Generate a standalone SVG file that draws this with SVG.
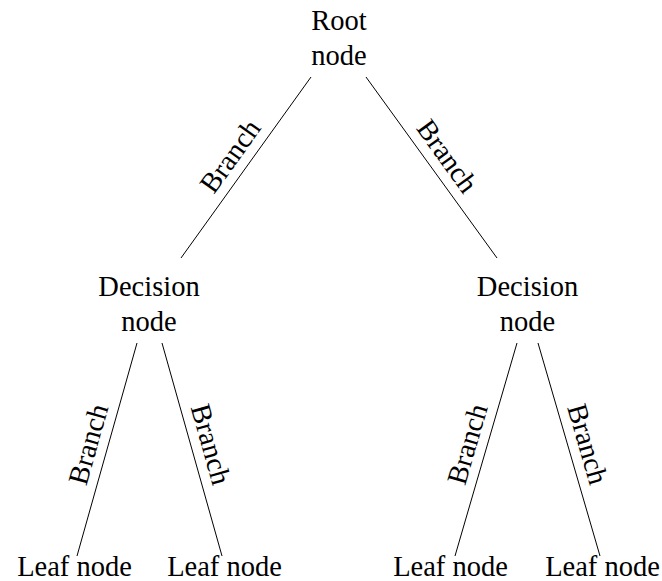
<svg xmlns="http://www.w3.org/2000/svg" width="662" height="581" viewBox="0 0 662 581">
  <style>
    text { font-family: "Liberation Serif", "Times New Roman", serif; font-size: 28.5px; fill: #000; text-anchor: middle; }
    .edge line { stroke: #000; stroke-width: 1; }
  </style>
  <rect width="662" height="581" fill="#fff"/>
  <g id="edges" class="edge">
    <line x1="311" y1="77" x2="181" y2="258"/>
    <line x1="366" y1="77" x2="497" y2="258"/>
    <line x1="137" y1="343" x2="77" y2="556"/>
    <line x1="162" y1="343" x2="222" y2="556"/>
    <line x1="517" y1="343" x2="455" y2="556"/>
    <line x1="538" y1="343" x2="600" y2="556"/>
    <text transform="translate(246,167.5) rotate(-54.3)" y="-10">Branch</text>
    <text transform="translate(431.5,167.5) rotate(54.1)" y="-10">Branch</text>
    <text transform="translate(107,449.5) rotate(-74.3)" y="-10">Branch</text>
    <text transform="translate(192,449.5) rotate(74.3)" y="-10">Branch</text>
    <text transform="translate(486,449.5) rotate(-73.8)" y="-10">Branch</text>
    <text transform="translate(569,449.5) rotate(73.8)" y="-10">Branch</text>
  </g>
  <g id="root">
    <text x="339" y="30">Root</text>
    <text x="339" y="65">node</text>
  </g>
  <g id="decision-left">
    <text x="149" y="296">Decision</text>
    <text x="149" y="331">node</text>
  </g>
  <g id="decision-right">
    <text x="527.5" y="296">Decision</text>
    <text x="527.5" y="331">node</text>
  </g>
  <g id="leaf-1"><text x="74.5" y="576">Leaf node</text></g>
  <g id="leaf-2"><text x="224.5" y="576">Leaf node</text></g>
  <g id="leaf-3"><text x="450.5" y="576">Leaf node</text></g>
  <g id="leaf-4"><text x="602.5" y="576">Leaf node</text></g>
</svg>
